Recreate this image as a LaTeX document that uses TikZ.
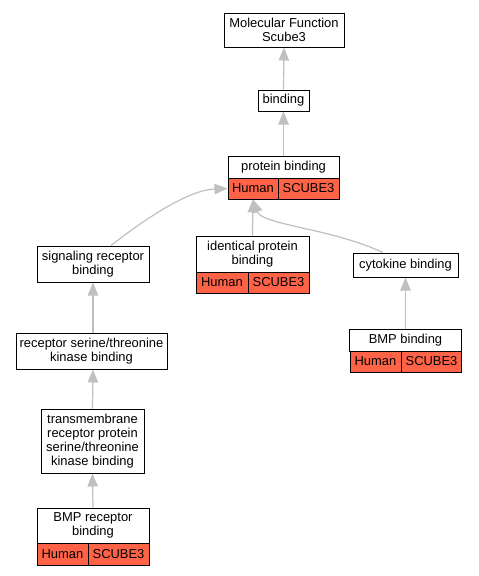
\documentclass[tikz,border=0pt]{standalone}
\usepackage{fontspec}
\setmainfont{Liberation Sans}
\usetikzlibrary{arrows.meta}
\definecolor{hitred}{RGB}{255,99,71}
\definecolor{edgegray}{RGB}{192,192,192}

\begin{document}
\begin{tikzpicture}[x = 0.75pt, y = -0.75pt,
    term/.style = {draw=black, fill=white, line width=0.75pt, inner sep=0pt, align=center,
                   font=\fontsize{9.7}{10.6}\selectfont},
    cell/.style = {draw=black, fill=hitred, line width=0.75pt, inner sep=0pt,
                   font=\fontsize{9.7}{10.6}\selectfont},
    edge/.style = {edgegray, line width=0.9pt, -{Triangle[length=9.75pt,width=7.8pt]}}]
            \useasboundingbox (0,0) rectangle (479,576);
            \fill[white] (0,0) rectangle (479,576);
            % terms
            \node[term, minimum width=90pt, minimum height=25.5pt] (mf) at (284,30) {Molecular Function\\Scube3};
            \node[term, minimum width=38.25pt, minimum height=15.75pt] (bind) at (283.5,100.5) {binding};
            \node[term, minimum width=83.25pt, minimum height=16.5pt] (pb) at (283.5,167) {protein binding};
            \node[cell, minimum width=37.5pt, minimum height=15.75pt] (pbh) at (253,188.5) {Human};
            \node[cell, minimum width=45.75pt, minimum height=15.75pt] (pbs) at (308.5,188.5) {SCUBE3};
            \node[term, minimum width=84pt, minimum height=27pt] (srb) at (93,264) {signaling receptor\\binding};
            \node[term, minimum width=84.75pt, minimum height=27pt] (ipb) at (252.5,254) {identical protein\\binding};
            \node[cell, minimum width=39pt, minimum height=15.75pt] (ipbh) at (222,282.5) {Human};
            \node[cell, minimum width=45.75pt, minimum height=15.75pt] (ipbs) at (278.5,282.5) {SCUBE3};
            \node[term, minimum width=78.75pt, minimum height=18pt] (cyto) at (405.5,265) {cytokine binding};
            \node[term, minimum width=84pt, minimum height=16.5pt] (bmpb) at (405.5,340) {BMP binding};
            \node[cell, minimum width=38.25pt, minimum height=15.75pt] (bmpbh) at (375.5,361.5) {Human};
            \node[cell, minimum width=45pt, minimum height=15.75pt] (bmpbs) at (431.5,361.5) {SCUBE3};
            \node[term, minimum width=113.25pt, minimum height=27pt] (rstk) at (91.5,351) {receptor serine/threonine\\kinase binding};
            \node[term, minimum width=77.25pt, minimum height=48pt] (tmrp) at (92.5,441) {transmembrane\\receptor protein\\serine/threonine\\kinase binding};
            \node[term, minimum width=84pt, minimum height=26.25pt] (bmprb) at (93,525.5) {BMP receptor\\binding};
            \node[cell, minimum width=38.25pt, minimum height=16.5pt] (bmprbh) at (62.5,554) {Human};
            \node[cell, minimum width=45.75pt, minimum height=16.5pt] (bmprbs) at (118.5,554) {SCUBE3};
            % edges
            \draw[edge] (bind.north) -- (mf.south);
            \draw[edge] (pb.north) -- (bind.south);
            \draw[edge] (ipb.north) -- (pbh.south);
            \draw[edge] (cyto.north -| 383,0) .. controls (330,228) and (262,225) .. (pbh.south);
            \draw[edge] (srb.north -| 111,0) .. controls (150,215) and (190,190) .. (pbh.west);
            \draw[edge] (rstk.north -| 93,0) -- (srb.south);
            \draw[edge] (tmrp.north) -- (rstk.south -| 93,0);
            \draw[edge] (bmprb.north) -- (tmrp.south);
            \draw[edge] (bmpb.north) -- (cyto.south);
\end{tikzpicture}
\end{document}
